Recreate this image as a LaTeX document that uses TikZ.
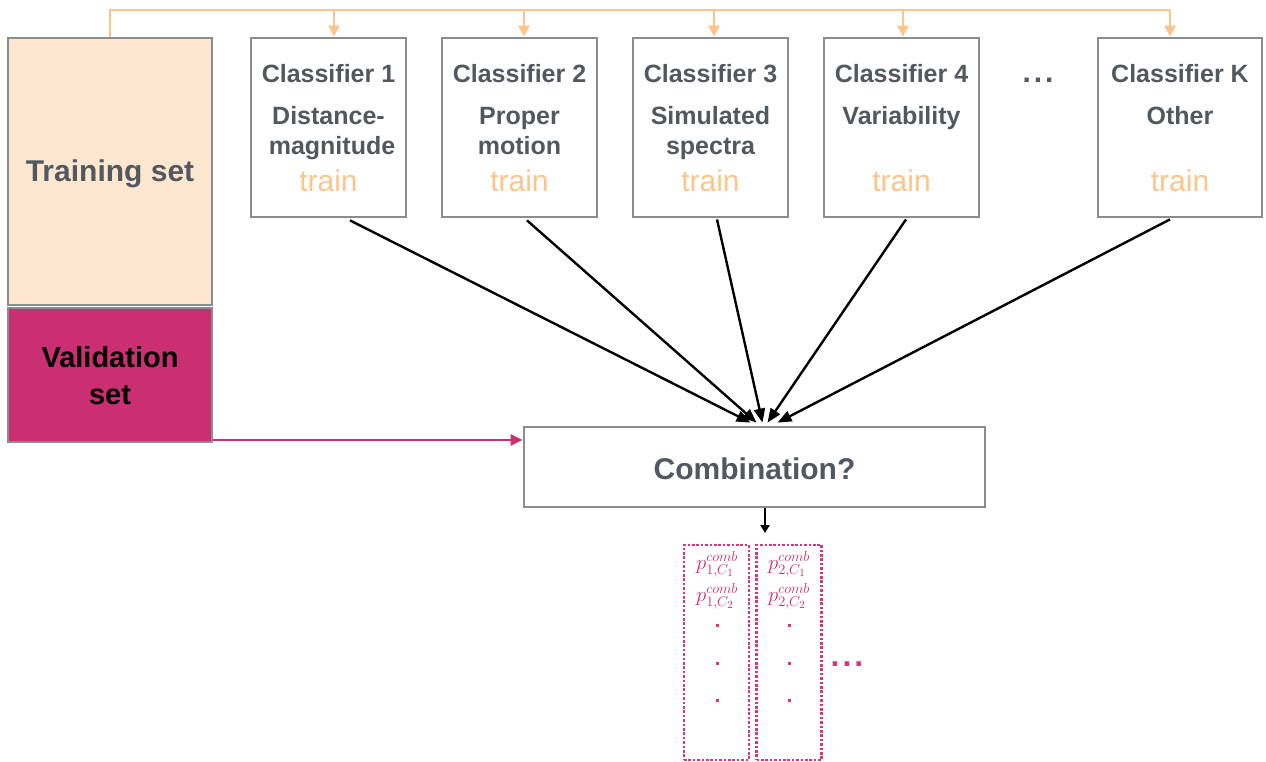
\documentclass[tikz,border=0pt]{standalone}
\usepackage{fontspec}
\setmainfont{Liberation Sans}
\usetikzlibrary{arrows.meta,calc}
\definecolor{txtgray}{HTML}{53575E}
\definecolor{boxgray}{HTML}{8A8C8E}
\definecolor{orng}{HTML}{FFC48A}
\definecolor{peach}{HTML}{FDE7D1}
\definecolor{mag}{HTML}{C92F71}
\definecolor{dotmag}{HTML}{D6377A}
\definecolor{ptmag}{HTML}{C8306F}
\begin{document}
\begin{tikzpicture}[x=1pt,y=-1pt,
  clsbox/.style={draw=boxgray,line width=2.8pt,minimum width=155pt,minimum height=179pt,inner sep=0pt},
  clstxt/.style={text=txtgray,font=\fontsize{25}{25}\selectfont\bfseries,anchor=base,inner sep=0pt},
  traintxt/.style={text=orng,font=\fontsize{30}{30}\selectfont,anchor=base,inner sep=0pt},
  oarrow/.style={draw=orng,line width=2.6pt,-{Triangle[length=11pt,width=11pt]}},
  karrow/.style={draw=black,line width=2.4pt,-{Triangle[length=14pt,width=11pt]}},
  dotbox/.style={draw=dotmag,line width=2.8pt,dash pattern=on 2.6pt off 1.8pt,minimum width=65pt,minimum height=215pt,inner sep=0pt},
  ptxt/.style={text=ptmag,font=\fontsize{22}{22}\selectfont,anchor=base,inner sep=0pt}
]
\useasboundingbox (0,0) rectangle (1266,762);
% left sets
\node[draw=boxgray,fill=peach,line width=2.8pt,minimum width=204pt,minimum height=267pt,inner sep=0pt] (tr) at (110,171.5) {};
\node[text=txtgray,font=\fontsize{30}{30}\selectfont\bfseries,inner sep=0pt] (trt) at (110,174) {Training set};
\node[draw=boxgray,fill=mag,line width=2.8pt,minimum width=204pt,minimum height=134pt,inner sep=0pt] (va) at (110,375) {};
\node[text=black,font=\fontsize{29}{29}\selectfont\bfseries,align=center,inner sep=0pt] (vat) at (110,376) {Validation\\[8pt]set};
% classifier boxes
\node[clsbox] (c1) at (328.5,127.5) {};
\node[clsbox] (c2) at (519.5,127.5) {};
\node[clsbox] (c3) at (710.5,127.5) {};
\node[clsbox] (c4) at (901.5,127.5) {};
\node[clsbox,minimum width=164pt] (cK) at (1180,127.5) {};
\node[clstxt] (c1a) at (328.5,83) {Classifier 1};
\node[clstxt] (c1b) at (328.5,125) {Distance-};
\node[clstxt] (c1c) at (332,155) {magnitude};
\node[traintxt] (c1d) at (328.5,192) {train};
\node[clstxt] (c2a) at (519.5,83) {Classifier 2};
\node[clstxt] (c2b) at (519.5,125) {Proper};
\node[clstxt] (c2c) at (519.5,155) {motion};
\node[traintxt] (c2d) at (519.5,192) {train};
\node[clstxt] (c3a) at (710.5,83) {Classifier 3};
\node[clstxt] (c3b) at (710.5,125) {Simulated};
\node[clstxt] (c3c) at (710.5,155) {spectra};
\node[traintxt] (c3d) at (710.5,192) {train};
\node[clstxt] (c4a) at (901.5,83) {Classifier 4};
\node[clstxt] (c4b) at (901.5,125) {Variability};
\node[traintxt] (c4d) at (901.5,192) {train};
\node[clstxt] (cKa) at (1180,83) {Classifier K};
\node[clstxt] (cKb) at (1180,125) {Other};
\node[traintxt] (cKd) at (1180,192) {train};
\node[clstxt] (cdots) at (1038,83) {\fontsize{30}{30}\selectfont.\kern3pt.\kern3pt.};
% orange feed
\coordinate (a1) at (334,10);
\coordinate (a2) at (524,10);
\coordinate (a3) at (714,10);
\coordinate (a4) at (903,10);
\coordinate (a5) at (1170,10);
\draw[draw=orng,line width=2.6pt] (tr.north) |- (a5);
\draw[oarrow] (a1) -- (a1 |- c1.north);
\draw[oarrow] (a2) -- (a2 |- c2.north);
\draw[oarrow] (a3) -- (a3 |- c3.north);
\draw[oarrow] (a4) -- (a4 |- c4.north);
\draw[oarrow] (a5) -- (a5 |- cK.north);
% combination
\node[draw=boxgray,line width=2.8pt,minimum width=461pt,minimum height=80pt,inner sep=0pt] (comb) at (754.5,467) {};
\node[text=txtgray,font=\fontsize{30}{30}\selectfont\bfseries,inner sep=0pt] (combt) at (754.5,469) {Combination?};
\draw[karrow] ($(c1.south)+(21.5,2)$) -- ($(comb.north)+(-4,-3)$);
\draw[karrow] ($(c2.south)+(7.5,2)$) -- ($(comb.north)+(2,-3)$);
\draw[karrow] ($(c3.south)+(6.5,1)$) -- ($(comb.north)+(8,-3)$);
\draw[karrow] ($(c4.south)+(4.5,1)$) -- ($(comb.north)+(13,-3)$);
\draw[karrow] ($(cK.south)+(-10,1)$) -- ($(comb.north)+(23,-3)$);
\draw[draw=mag,line width=2.4pt,-{Triangle[length=12pt,width=11pt]}] (va.east |- 0,440) -- (comb.west |- 0,440);
% output
\coordinate (oout) at (765,533);
\draw[draw=black,line width=2.4pt,-{Triangle[length=8pt,width=9pt]}] (comb.south -| oout) -- (oout);
\node[dotbox] (d1) at (716.5,652.5) {};
\node[dotbox] (d2) at (789,652.5) {};
\node[ptxt] (p11) at (717,569) {$p_{1,C_1}^{comb}$};
\node[ptxt] (p12) at (717,601) {$p_{1,C_2}^{comb}$};
\node[ptxt] (p21) at (789,569) {$p_{2,C_1}^{comb}$};
\node[ptxt] (p22) at (789,601) {$p_{2,C_2}^{comb}$};
\foreach \y [count=\i] in {625,663,700}{
  \fill[dotmag] (715.5,\y-1.5) rectangle +(3,3) coordinate (e1\i);
  \fill[dotmag] (787.5,\y-1.5) rectangle +(3,3) coordinate (e2\i);
}
\node[text=dotmag,font=\fontsize{32}{32}\selectfont\bfseries,inner sep=0pt] (odots) at (847,664) {.\kern3pt.\kern3pt.};
\end{tikzpicture}
\end{document}
